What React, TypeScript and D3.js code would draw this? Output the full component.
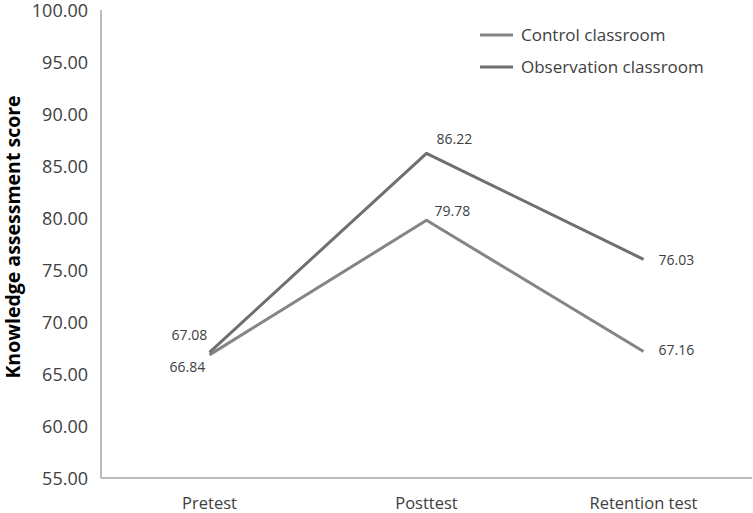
import React from "react";
import * as d3 from "d3";

const categories = ["Pretest", "Posttest", "Retention test"];
const controlScores = [66.84, 79.78, 67.16];
const observationScores = [67.08, 86.22, 76.03];
const yTicks = [55, 60, 65, 70, 75, 80, 85, 90, 95, 100];

const W = 753;
const H = 513;
const font = "'Open Sans', 'Noto Sans', sans-serif";

export default function App() {
  const x = d3.scaleBand().domain(categories).range([101, 752]);
  const y = d3.scaleLinear().domain([55, 100]).range([478, 10]);
  const cx = (c: string) => (x(c) as number) + x.bandwidth() / 2;

  const line = d3
    .line<number>()
    .x((_, i) => cx(categories[i]))
    .y((d) => y(d));

  const series = [
    { name: "Control classroom", values: controlScores, color: "#858585" },
    { name: "Observation classroom", values: observationScores, color: "#6f6f6f" },
  ];

  // label offsets per point: [dx, dy] relative to the vertex
  const ctrlOffsets = [
    [-40, 12],
    [8, -9],
    [15, -1.5],
  ];
  const obsOffsets = [
    [-38, -17],
    [10, -14],
    [15, 1],
  ];

  return (
    <svg width={W} height={H} style={{ position: "absolute", left: 0, top: 0, background: "#fff" }}>
      {/* axes */}
      <line x1={101} x2={101} y1={y(100)} y2={y(55)} stroke="#a6a6a6" strokeWidth={1.5} />
      <line x1={101} x2={752} y1={y(55)} y2={y(55)} stroke="#a6a6a6" strokeWidth={1.5} />

      {yTicks.map((t) => (
        <text
          key={t}
          x={88}
          y={y(t) + 1}
          dy="0.35em"
          textAnchor="end"
          fontFamily={font}
          fontSize={18}
          fill="#404040"
        >
          {t.toFixed(2)}
        </text>
      ))}

      {categories.map((c) => (
        <text
          key={c}
          x={cx(c)}
          y={503}
          dy="0.35em"
          textAnchor="middle"
          fontFamily={font}
          fontSize={16.5}
          fill="#404040"
        >
          {c}
        </text>
      ))}

      <text
        transform="translate(13,237) rotate(-90)"
        textAnchor="middle"
        dy="0.35em"
        fontFamily={font}
        fontWeight="bold"
        fontSize={19.5}
        fill="#000"
      >
        Knowledge assessment score
      </text>

      {series.map((s) => (
        <path
          key={s.name}
          d={line(s.values) as string}
          fill="none"
          stroke={s.color}
          strokeWidth={3}
          strokeLinejoin="round"
        />
      ))}

      {controlScores.map((v, i) => (
        <text
          key={"c" + i}
          x={cx(categories[i]) + ctrlOffsets[i][0]}
          y={y(v) + ctrlOffsets[i][1]}
          dy="0.35em"
          fontFamily={font}
          fontSize={14}
          fill="#404040"
        >
          {v.toFixed(2)}
        </text>
      ))}
      {observationScores.map((v, i) => (
        <text
          key={"o" + i}
          x={cx(categories[i]) + obsOffsets[i][0]}
          y={y(v) + obsOffsets[i][1]}
          dy="0.35em"
          fontFamily={font}
          fontSize={14}
          fill="#404040"
        >
          {v.toFixed(2)}
        </text>
      ))}

      {/* legend */}
      {series.map((s, i) => (
        <g key={s.name} transform={`translate(480,${35 + i * 32})`}>
          <line x1={0} x2={33} y1={0} y2={0} stroke={s.color} strokeWidth={3} />
          <text x={41} y={0} dy="0.35em" fontFamily={font} fontSize={17} fill="#404040">
            {s.name}
          </text>
        </g>
      ))}
    </svg>
  );
}
